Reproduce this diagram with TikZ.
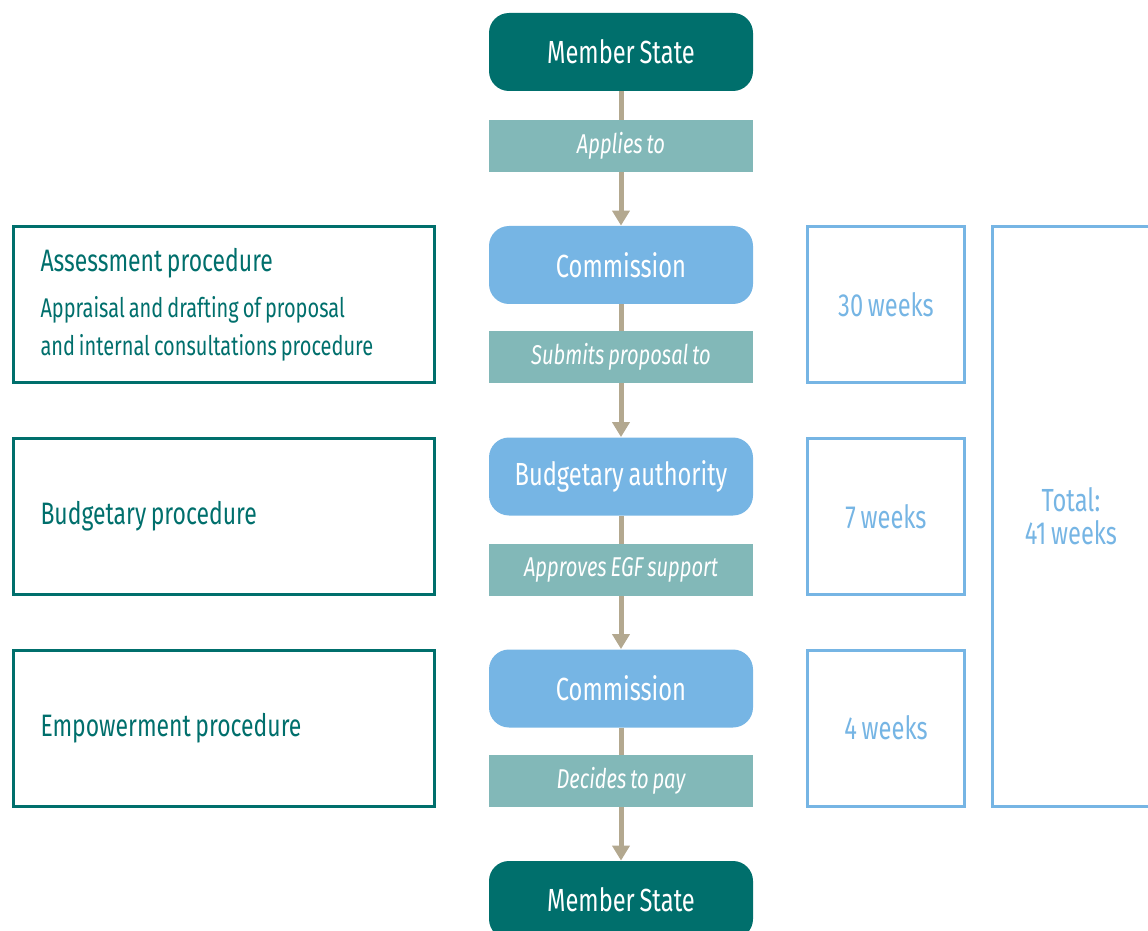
\documentclass[tikz,border=0pt]{standalone}
\usepackage{fontspec}
\setmainfont[FakeStretch=0.74, WordSpace=0.75]{Fira Sans}
\usetikzlibrary{arrows.meta, positioning, backgrounds}
\definecolor{egfTeal}{HTML}{006F6C}
\definecolor{egfBlue}{HTML}{76B5E4}
\definecolor{egfSage}{HTML}{82B8B8}
\definecolor{egfTan}{HTML}{B3A88F}
\tikzset{
  % one unit is one pixel of the 1148 x 931 layout
  actor/.style    = {rounded corners=10pt, minimum width=132pt, minimum height=39pt,
                     inner sep=0pt, text=white, font=\fontsize{16}{19}\selectfont},
  msnode/.style   = {actor, fill=egfTeal},
  comnode/.style  = {actor, fill=egfBlue},
  verb/.style     = {fill=egfSage, minimum width=132pt, minimum height=26pt, inner sep=0pt,
                     text=white, font=\fontsize{13.6}{17}\selectfont\itshape},
  phase/.style    = {draw=egfTeal, line width=1.5pt, minimum width=210.5pt, minimum height=78pt,
                     inner xsep=13.5pt, text width=183.5pt, align=flush left, text=egfTeal,
                     font=\fontsize{15.5}{19}\selectfont},
  weeks/.style    = {draw=egfBlue, line width=1.5pt, minimum width=78.5pt, minimum height=78pt,
                     align=center, text=egfBlue, font=\fontsize{16}{16.5}\selectfont},
  flow/.style     = {egfTan, line width=2.5pt, -{Triangle[length=7.5pt, width=8.5pt]}},
}
\begin{document}
\begin{tikzpicture}[x=0.5pt, y=-0.5pt]
  \useasboundingbox (0,0) rectangle (1148,931);
  \clip (0,0) rectangle (1148,931);
  % central chain of actors and actions
  \node[msnode]  (ms1)      at (621,52)    {Member State};
  \node[verb]    (applies)  at (621,146)   {Applies to};
  \node[comnode] (com1)     at (621,265)   {Commission};
  \node[verb]    (submits)  at (621,357)   {Submits proposal to};
  \node[comnode] (budget)   at (621,476.5) {Budgetary authority};
  \node[verb]    (approves) at (621,569.5) {Approves EGF support};
  \node[comnode] (com2)     at (621,688.5) {Commission};
  \node[verb]    (decides)  at (621,781)   {Decides to pay};
  \node[msnode]  (ms2)      at (621,900)   {Member State};
  \begin{scope}[on background layer]
    \draw[flow] (ms1) -- (com1);
    \draw[flow] (com1) -- (budget);
    \draw[flow] (budget) -- (com2);
    \draw[flow] (com2) -- (ms2);
  \end{scope}
  % procedures on the left
  \node[phase] (assess) at (224,304.5)
    {Assessment procedure\\[4pt]
     {\fontsize{13.5}{17.5}\selectfont Appraisal and drafting of proposal}\\
     {\fontsize{13.5}{17.5}\selectfont and internal consultations procedure}};
  \node[phase] (budgetproc) at (224,516.5) {Budgetary procedure};
  \node[phase] (empower)    at (224,728)   {Empowerment procedure};
  % durations on the right
  \node[weeks] (w30) at (886,304.5) {30 weeks};
  \node[weeks] (w7)  at (886,516.5) {7 weeks};
  \node[weeks] (w4)  at (886,728)   {4 weeks};
  \node[weeks, minimum width=78.5pt, minimum height=290pt] (total) at (1071,516.5)
    {Total:\\41 weeks};
\end{tikzpicture}
\end{document}
